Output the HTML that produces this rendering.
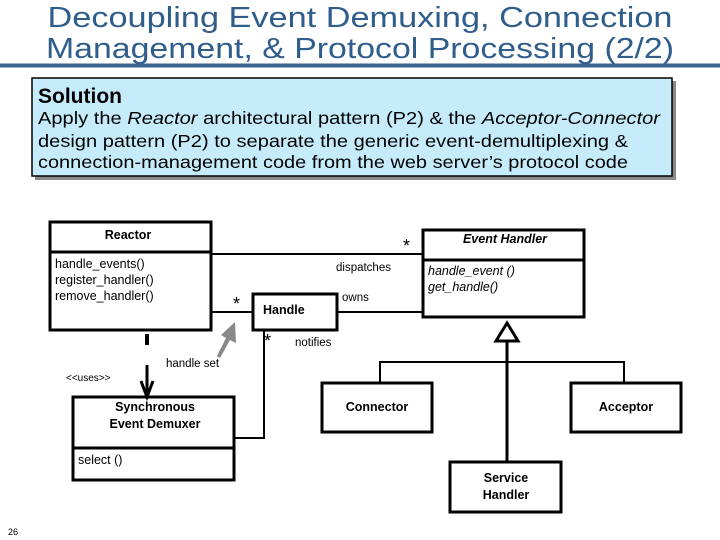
<!DOCTYPE html>
<html><head><meta charset="utf-8"><style>
html,body{margin:0;padding:0;background:#fff;width:720px;height:540px;overflow:hidden}
svg{display:block}
</style></head><body>
<svg width="720" height="540" xmlns="http://www.w3.org/2000/svg" font-family="Liberation Sans, Arial, sans-serif">
<text x="360" y="27" text-anchor="middle" font-size="29" fill="#2f5d8c" textLength="625" lengthAdjust="spacingAndGlyphs">Decoupling Event Demuxing, Connection</text>
<text x="360" y="58" text-anchor="middle" font-size="29" fill="#2f5d8c" textLength="628" lengthAdjust="spacingAndGlyphs">Management, &amp; Protocol Processing (2/2)</text>
<rect x="0" y="63.5" width="720" height="4" fill="#3b6592"/>
<rect x="35" y="81" width="641" height="99" fill="#8a8a8a"/>
<rect x="32" y="78" width="640" height="98" fill="#c6ecfb" stroke="#000" stroke-width="1.5"/>
<text x="38" y="103" font-size="21" font-weight="bold">Solution</text>
<text font-size="17.5" x="38" y="124" textLength="622" lengthAdjust="spacingAndGlyphs">Apply the <tspan font-style="italic">Reactor</tspan> architectural pattern (P2) &amp; the <tspan font-style="italic">Acceptor-Connector</tspan></text>
<text font-size="17.5" x="38" y="147" textLength="590" lengthAdjust="spacingAndGlyphs">design pattern (P2) to separate the generic event-demultiplexing &amp;</text>
<text font-size="17.5" x="38" y="168" textLength="590" lengthAdjust="spacingAndGlyphs">connection-management code from the web server’s protocol code</text>

<g stroke="#000" stroke-width="3" fill="none">
<rect x="50" y="222" width="161" height="108"/>
<line x1="50" y1="252" x2="211" y2="252"/>
<rect x="253" y="294" width="84" height="36"/>
<rect x="423" y="230" width="161" height="87"/>
<line x1="423" y1="260" x2="584" y2="260"/>
<rect x="73" y="397" width="161" height="83"/>
<line x1="73" y1="448" x2="234" y2="448"/>
<rect x="322" y="383" width="110" height="49"/>
<rect x="571" y="383" width="110" height="49"/>
<rect x="450" y="462" width="111" height="50"/>
</g>
<g stroke="#000" stroke-width="2" fill="none">
<line x1="211" y1="254" x2="423" y2="254"/>
<line x1="211" y1="312" x2="253" y2="312"/>
<line x1="337" y1="312" x2="423" y2="312"/>
<polyline points="264,330 264,438 234,438"/>
<polyline points="380,382 380,362 624,362 624,382"/>
</g>
<line x1="507" y1="340" x2="507" y2="462" stroke="#000" stroke-width="3"/>
<polygon points="507,323 496,341 518,341" fill="#fff" stroke="#000" stroke-width="3"/>
<line x1="147" y1="334" x2="147" y2="345" stroke="#000" stroke-width="4"/>
<line x1="147" y1="365" x2="147" y2="397" stroke="#000" stroke-width="3"/>
<polyline points="141,381 147,397 153,381" stroke="#000" stroke-width="3" fill="none"/>
<polygon points="235,322 236,343 230,340 220,358 217,356 226,338 221,335" fill="#888"/>

<g font-size="12.5">
<text x="128" y="239" text-anchor="middle" font-weight="bold">Reactor</text>
<text x="55" y="268">handle_events()</text>
<text x="55" y="284">register_handler()</text>
<text x="55" y="300">remove_handler()</text>
<text x="263" y="314" font-weight="bold">Handle</text>
<text x="505" y="243" text-anchor="middle" font-weight="bold" font-style="italic">Event Handler</text>
<text x="428" y="275" font-style="italic">handle_event ()</text>
<text x="428" y="291" font-style="italic">get_handle()</text>
<text x="155" y="411" text-anchor="middle" font-weight="bold">Synchronous</text>
<text x="155" y="428" text-anchor="middle" font-weight="bold">Event Demuxer</text>
<text x="78" y="464">select ()</text>
<text x="377" y="411" text-anchor="middle" font-weight="bold">Connector</text>
<text x="626" y="411" text-anchor="middle" font-weight="bold">Acceptor</text>
<text x="506" y="482" text-anchor="middle" font-weight="bold">Service</text>
<text x="506" y="499" text-anchor="middle" font-weight="bold">Handler</text>
</g>
<g font-size="11.5">
<text x="336" y="271">dispatches</text>
<text x="342" y="301">owns</text>
<text x="295" y="346">notifies</text>
<text x="166" y="367">handle set</text>
<text x="66" y="381" font-size="10">&lt;&lt;uses&gt;&gt;</text>
<text x="8" y="535" font-size="9">26</text>
</g>
<g font-size="18">
<text x="403" y="252">*</text>
<text x="233" y="310">*</text>
<text x="264" y="347">*</text>
</g>
</svg>
</body></html>
